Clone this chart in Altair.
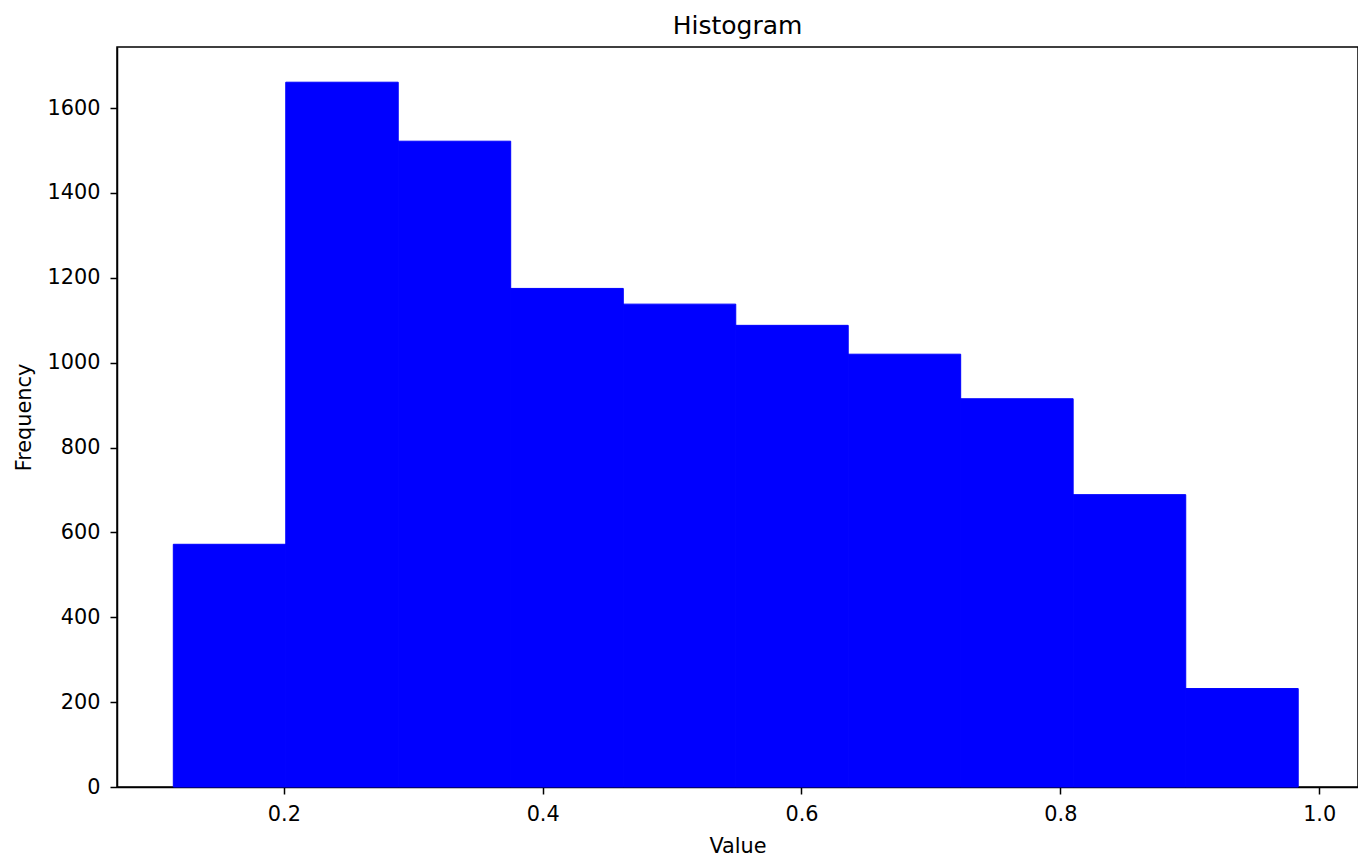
import altair as alt
import pandas as pd

# Bin edges and counts per bin
bin_edges = [0.1146, 0.2015, 0.2884, 0.3753, 0.4623, 0.5492, 0.6361, 0.7230, 0.8099, 0.8969, 0.9838]
counts = [572, 1661, 1522, 1175, 1138, 1088, 1020, 915, 689, 232]
x_ticks = [0.2, 0.4, 0.6, 0.8, 1.0]
y_ticks = [0, 200, 400, 600, 800, 1000, 1200, 1400, 1600]

df = pd.DataFrame({
    "start": bin_edges[:-1],
    "end": bin_edges[1:],
    "count": counts,
})

FONT = "DejaVu Sans"

chart = alt.Chart(df).mark_rect(color="#0000ff", stroke="#0000ff", strokeWidth=1).encode(
    x=alt.X("start:Q",
            scale=alt.Scale(domain=[0.0711, 1.0300], nice=False, zero=False),
            axis=alt.Axis(title="Value", values=x_ticks, format=".1f", grid=False,
                          tickSize=7, labelPadding=10, titlePadding=13)),
    x2="end:Q",
    y=alt.Y("count:Q",
            scale=alt.Scale(domain=[0, 1744], nice=False),
            axis=alt.Axis(title="Frequency", values=y_ticks, format="d", grid=False,
                          tickSize=7, labelPadding=10, titlePadding=13)),
    y2=alt.datum(0),
).properties(
    width=1241,
    height=740,
    title=alt.TitleParams("Histogram", fontSize=25, font=FONT, fontWeight="normal",
                          anchor="middle", baseline="bottom", offset=-17, color="#000000"),
    autosize=alt.AutoSizeParams(type="none"),
    padding={"left": 109, "top": 39, "right": 0, "bottom": 75},
).configure_view(
    stroke="#000000", strokeWidth=1.5
).configure_axis(
    labelFont=FONT, titleFont=FONT, labelFontSize=20.8, titleFontSize=20.8,
    labelColor="#000000", titleColor="#000000", titleFontWeight="normal",
    domainColor="#000000", domainWidth=1.5, tickColor="#000000", tickWidth=1.5,
)

chart.save("out.html", embed_options={"renderer": "svg", "actions": False})
